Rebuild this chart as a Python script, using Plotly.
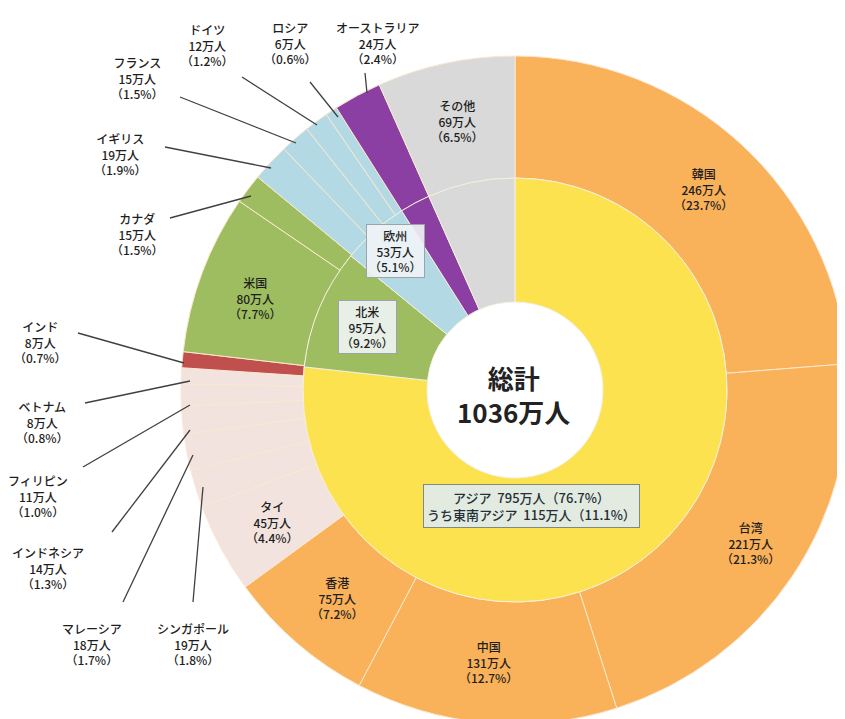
import plotly.graph_objects as go

# ---- data ----
countries = ["韓国", "台湾", "中国", "香港", "タイ", "シンガポール", "マレーシア",
             "インドネシア", "フィリピン", "ベトナム", "インド", "米国", "カナダ",
             "イギリス", "フランス", "ドイツ", "ロシア", "オーストラリア", "その他"]
country_values = [246, 221, 131, 75, 45, 19, 18, 14, 11, 8, 8, 80, 15, 19, 15, 12, 6, 24, 69]
country_pcts = ["23.7", "21.3", "12.7", "7.2", "4.4", "1.8", "1.7", "1.3", "1.0", "0.8",
                "0.7", "7.7", "1.5", "1.9", "1.5", "1.2", "0.6", "2.4", "6.5"]
country_colors = ["#F9B15A", "#F9B15A", "#F9B15A", "#F9B15A", "#F2E3DF", "#F2E3DF", "#F2E3DF",
                  "#F2E3DF", "#F2E3DF", "#F2E3DF", "#C0504D", "#9DBD60", "#9DBD60",
                  "#B3D9E5", "#B3D9E5", "#B3D9E5", "#B3D9E5", "#8B3FA3", "#D9D9D9"]

regions = ["アジア", "北米", "欧州", "オーストラリア", "その他"]
region_values = [795, 95, 53, 24, 69]
region_pcts = ["76.7", "9.2", "5.1", "2.4", "6.5"]
region_colors = ["#FDE24F", "#9DBD60", "#B3D9E5", "#8B3FA3", "#D9D9D9"]
se_asia_value, se_asia_pct = 115, "11.1"
total_value = 1036

W, H = 845, 719
OFF = 8                    # browser default body margin
CX, CY = 515, 390          # centre in window pixels
R_OUT, R_MID, R_IN = 334, 212, 88


def px(x):
    return min(1, max(0, (x - OFF) / W))


def py(y):
    return min(1, max(0, 1 - (y - OFF) / H))


fig = go.Figure()
fig.add_trace(go.Pie(
    labels=countries, values=country_values, sort=False, direction="clockwise",
    rotation=0, hole=R_MID / R_OUT, textinfo="none", hoverinfo="skip",
    marker=dict(colors=country_colors, line=dict(color="#FBE8D0", width=1)),
    domain=dict(x=[px(CX - R_OUT), px(CX + R_OUT)], y=[py(CY + R_OUT), py(CY - R_OUT)]),
    showlegend=False,
))
fig.add_trace(go.Pie(
    labels=regions, values=region_values, sort=False, direction="clockwise",
    rotation=0, hole=R_IN / R_MID, textinfo="none", hoverinfo="skip",
    marker=dict(colors=region_colors, line=dict(color="#F4F0E0", width=1)),
    domain=dict(x=[px(CX - R_MID), px(CX + R_MID)], y=[py(CY + R_MID), py(CY - R_MID)]),
    showlegend=False,
))

FONT = "Noto Sans CJK JP, Noto Sans, sans-serif"
TXT = "#1E1E1E"


def lab(i):
    return f"{countries[i]}<br>{country_values[i]}万人<br>（{country_pcts[i]}%）"


# label positions (pixel centres) and optional leader lines
label_pos = {
    "韓国": (703, 189, None),
    "台湾": (750, 543, None),
    "中国": (488, 662, None),
    "香港": (337, 598, None),
    "タイ": (272, 522, None),
    "米国": (255, 298, None),
    "その他": (457, 121, None),
    "オーストラリア": (377, 43, ((365, 73), (367, 93))),
    "ロシア": (290, 43, ((310, 82), (338, 117))),
    "ドイツ": (207, 45, ((242, 77), (317, 125))),
    "フランス": (137, 78, ((180, 97), (296, 143))),
    "イギリス": (120, 154, ((165, 147), (271, 168))),
    "カナダ": (137, 234, ((170, 218), (251, 196))),
    "インド": (40, 342, ((78, 333), (184, 363))),
    "ベトナム": (42, 422, ((85, 403), (190, 381))),
    "フィリピン": (38, 496, ((83, 467), (190, 405))),
    "インドネシア": (48, 568, ((112, 532), (190, 430))),
    "マレーシア": (92, 644, ((123, 602), (193, 455))),
    "シンガポール": (193, 644, ((193, 602), (203, 487))),
}

annotations = []
shapes = []
for i, name in enumerate(countries):
    x, y, line = label_pos[name]
    annotations.append(dict(
        x=px(x), y=py(y), xref="paper", yref="paper", text=lab(i), showarrow=False,
        font=dict(family=FONT, size=12, color=TXT, weight=500), align="center",
        xanchor="center", yanchor="middle",
    ))
    if line:
        (x0, y0), (x1, y1) = line
        shapes.append(dict(type="line", xref="paper", yref="paper",
                           x0=px(x0), y0=py(y0), x1=px(x1), y1=py(y1),
                           line=dict(color="#404040", width=1.3)))

# region boxes
box_pos = {"欧州": (395, 251), "北米": (367, 327)}
for j, name in enumerate(regions):
    if name in box_pos:
        x, y = box_pos[name]
        annotations.append(dict(
            x=px(x), y=py(y), xref="paper", yref="paper",
            text=f"{name}<br>{region_values[j]}万人<br>（{region_pcts[j]}%）",
            showarrow=False, font=dict(family=FONT, size=12, color=TXT, weight=500),
            bgcolor="rgba(240,244,246,0.9)", bordercolor="#9AA4AA", borderwidth=1,
            borderpad=2, align="center",
        ))

annotations.append(dict(
    x=px(531), y=py(528), xref="paper", yref="paper",
    text=(f"アジア  {region_values[0]}万人（{region_pcts[0]}%）<br>"
          f"うち東南アジア  {se_asia_value}万人（{se_asia_pct}%）"),
    showarrow=False, font=dict(family=FONT, size=13, color="#22303A", weight=500),
    bgcolor="rgba(225,234,232,0.95)", bordercolor="#7E8A80", borderwidth=1,
    borderpad=3, align="center",
))

annotations.append(dict(
    x=px(513), y=py(394), xref="paper", yref="paper",
    text=f"総計<br>{total_value}万人", showarrow=False,
    font=dict(family=FONT, size=26, color="#222222", weight=600), align="center",
))

fig.update_layout(
    width=W, height=H, margin=dict(l=0, r=0, t=0, b=0),
    paper_bgcolor="white", plot_bgcolor="white",
    annotations=annotations, shapes=shapes,
)

fig.write_html("out.html")
